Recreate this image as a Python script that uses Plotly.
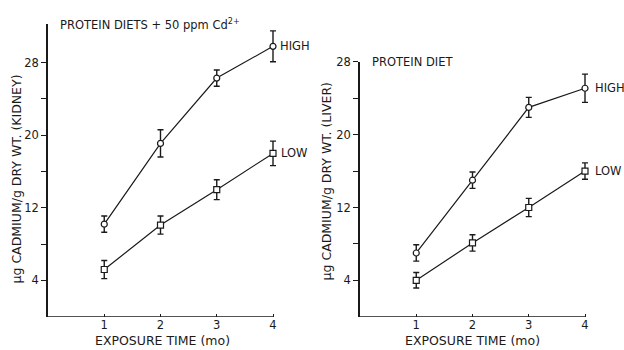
import plotly.graph_objects as go

months = [1, 2, 3, 4]

kidney_high = [10.2, 19.1, 26.3, 29.8]
kidney_high_err = [0.9, 1.5, 0.9, 1.7]
kidney_low = [5.2, 10.1, 14.0, 18.0]
kidney_low_err = [1.0, 1.0, 1.1, 1.35]

liver_high = [7.0, 15.0, 23.0, 25.1]
liver_high_err = [0.9, 0.9, 1.1, 1.55]
liver_low = [4.0, 8.1, 12.0, 16.0]
liver_low_err = [0.85, 0.9, 1.0, 0.9]

y_ticks = [4, 8, 12, 16, 20, 24, 28]
y_tick_labels = ["4", "", "12", "", "20", "", "28"]

FONT = "DejaVu Sans"
INK = "#1a1a1a"

fig = go.Figure()

def add_series(y, err, symbol, xa, ya):
    fig.add_trace(go.Scatter(
        x=months, y=y, mode="lines+markers",
        line=dict(color=INK, width=1.2),
        marker=dict(symbol=symbol, size=6, color="white",
                    line=dict(color=INK, width=1.2)),
        error_y=dict(type="data", array=err, visible=True,
                     color=INK, thickness=1.4, width=3),
        xaxis=xa, yaxis=ya, showlegend=False, cliponaxis=False,
    ))

add_series(kidney_high, kidney_high_err, "circle", "x", "y")
add_series(kidney_low, kidney_low_err, "square", "x", "y")
add_series(liver_high, liver_high_err, "circle", "x2", "y2")
add_series(liver_low, liver_low_err, "square", "x2", "y2")

H = 350.0
W = 624.0
XMAX = 4.1  # a little room so the end error-bar caps are not clipped
px_per_unit = (273 - 48) / 4.0
xdom1 = [48 / W, (48 + px_per_unit * XMAX) / W]
xdom2 = [360 / W, (360 + px_per_unit * XMAX) / W]
ydom1 = [1 - 316 / H, 1 - 17 / H]
ydom2 = [1 - 316 / H, 1 - 56 / H]

xaxis_common = dict(
    range=[0, XMAX], tickmode="array", tickvals=months,
    ticktext=[str(m) for m in months],
    ticks="inside", ticklen=3, tickwidth=1.2, tickcolor=INK,
    showline=False, showgrid=False,
    zeroline=False, tickfont=dict(family=FONT, size=11.5, color=INK),
    fixedrange=True,
)
yaxis_common = dict(
    tickmode="array", tickvals=y_ticks, ticktext=y_tick_labels,
    ticks="outside", ticklen=5, tickwidth=1.3, tickcolor=INK,
    showline=True, linecolor=INK, linewidth=1.5, showgrid=False,
    zeroline=False, tickfont=dict(family=FONT, size=11.5, color=INK),
    fixedrange=True,
)

fig.update_layout(
    width=624, height=350,
    margin=dict(l=0, r=0, t=0, b=0),
    paper_bgcolor="white", plot_bgcolor="white",
    xaxis=dict(domain=xdom1, anchor="y", **xaxis_common),
    yaxis=dict(domain=ydom1, anchor="x", range=[0, 32.3], **yaxis_common),
    xaxis2=dict(domain=xdom2, anchor="y2", **xaxis_common),
    yaxis2=dict(domain=ydom2, anchor="x2", range=[0, 28], **yaxis_common),
)

# x axis lines ending exactly at 4
for xr, yr in (("x", "y"), ("x2", "y2")):
    fig.add_shape(type="line", xref=xr, yref=yr, x0=0, x1=4, y0=0, y1=0,
                  line=dict(color=INK, width=1.5))

ann_font = dict(family=FONT, size=11.5, color=INK)
title_font = dict(family=FONT, size=12.5, color=INK)
annotations = [
    # series labels
    dict(x=4, y=kidney_high[3], xref="x", yref="y", text="HIGH", showarrow=False,
         xanchor="left", xshift=5, font=ann_font),
    dict(x=4, y=kidney_low[3], xref="x", yref="y", text="LOW", showarrow=False,
         xanchor="left", xshift=6, font=ann_font),
    dict(x=4, y=liver_high[3], xref="x2", yref="y2", text="HIGH", showarrow=False,
         xanchor="left", xshift=8, font=ann_font),
    dict(x=4, y=liver_low[3], xref="x2", yref="y2", text="LOW", showarrow=False,
         xanchor="left", xshift=8, font=ann_font),
    # panel titles
    dict(x=58 / W, y=1 - 18 / H, xref="paper", yref="paper",
         text="PROTEIN DIETS + 50 ppm Cd<sup>2+</sup>", showarrow=False,
         xanchor="left", yanchor="middle", font=ann_font),
    dict(x=370 / W, y=1 - 56 / H, xref="paper", yref="paper",
         text="PROTEIN DIET", showarrow=False,
         xanchor="left", yanchor="middle", font=ann_font),
    # x axis titles
    dict(x=162 / W, y=1 - 340 / H, xref="paper", yref="paper",
         text="EXPOSURE TIME (mo)", showarrow=False,
         xanchor="center", yanchor="middle", font=title_font),
    dict(x=472 / W, y=1 - 340 / H, xref="paper", yref="paper",
         text="EXPOSURE TIME (mo)", showarrow=False,
         xanchor="center", yanchor="middle", font=title_font),
    # y axis titles
    dict(x=16 / W, y=1 - 176 / H, xref="paper", yref="paper",
         text="μg CADMIUM/g DRY WT. (KIDNEY)", showarrow=False, textangle=-90,
         xanchor="center", yanchor="middle", font=title_font),
    dict(x=326 / W, y=1 - 178 / H, xref="paper", yref="paper",
         text="μg CADMIUM/g DRY WT. (LIVER)", showarrow=False, textangle=-90,
         xanchor="center", yanchor="middle", font=title_font),
]
fig.update_layout(annotations=annotations)

fig.write_html("out.html")
